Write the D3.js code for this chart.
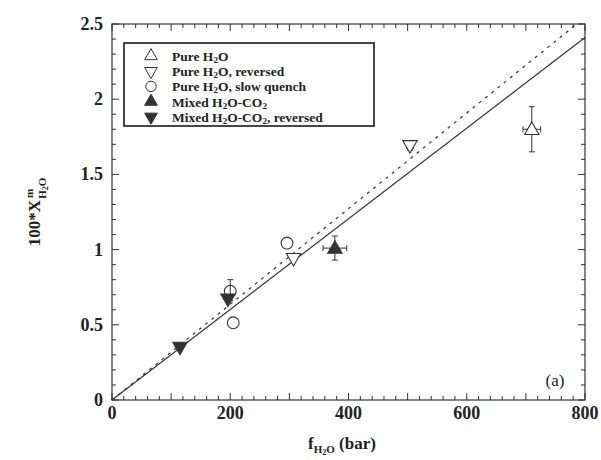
<!doctype html>
<html lang="en">
<head>
<meta charset="utf-8">
<title>Water solubility vs fugacity</title>
<style>
  body { margin: 0; background: #fff; }
  svg text { font-family: "Liberation Serif", "DejaVu Serif", serif; fill: #222; }
</style>
</head>
<body>
<div id="mychart"></div>
<script src="https://d3js.org/d3.v7.min.js"></script>
<script>
var width = 601;
var height = 460;

// data
var pureUp = [{x: 710, y: 1.80, ex: 15, ey: 0.15}];
var pureDown = [{x: 504, y: 1.69, ex: 6, ey: 0.03}, {x: 307, y: 0.94, ex: 0, ey: 0}];
var slowQuench = [{x: 296, y: 1.05, ey: 0}, {x: 200, y: 0.73, ey: 0.07}, {x: 205, y: 0.52, ey: 0}];
var mixedUp = [{x: 377, y: 1.01, ex: 20, ey: 0.08}];
var mixedDown = [{x: 196, y: 0.67}, {x: 115, y: 0.35}];
var solidFit = [[0, 0], [800, 2.41]];
var dashedFit = [[0, 0], [786, 2.5]];
var xTicks = [0, 200, 400, 600, 800];
var yTicks = [0, 0.5, 1, 1.5, 2, 2.5];
var legendLabels = ["Pure H|2|O", "Pure H|2|O,  reversed", "Pure H|2|O,  slow quench", "Mixed H|2|O-CO|2|", "Mixed H|2|O-CO|2|,  reversed"];

var svg = d3.select("#mychart").append("svg")
  .attr("width", width)
  .attr("height", height);

var x = d3.scaleLinear().domain([0, 800]).range([112, 585]);
var y = d3.scaleLinear().domain([0, 2.5]).range([400, 24]);

var ink = "#333";

// frame
svg.append("rect")
  .attr("x", x(0)).attr("y", y(2.5))
  .attr("width", x(800) - x(0)).attr("height", y(0) - y(2.5))
  .attr("fill", "none").attr("stroke", ink).attr("stroke-width", 1.2);

// ticks, pointing inward on all four sides
var xMinor = d3.range(0, 801, 20);
var yMinor = d3.range(0, 26).map(function(d) { return d / 10; });
var tickLen = function(major) { return major ? 7 : 4; };

xMinor.forEach(function(v) {
  var major = v % 100 === 0;
  svg.append("line").attr("x1", x(v)).attr("x2", x(v))
    .attr("y1", y(0)).attr("y2", y(0) - tickLen(major))
    .attr("stroke", ink).attr("stroke-width", 1);
  svg.append("line").attr("x1", x(v)).attr("x2", x(v))
    .attr("y1", y(2.5)).attr("y2", y(2.5) + tickLen(major))
    .attr("stroke", ink).attr("stroke-width", 1);
});
yMinor.forEach(function(v) {
  var major = Math.round(v * 10) % 5 === 0;
  svg.append("line").attr("y1", y(v)).attr("y2", y(v))
    .attr("x1", x(0)).attr("x2", x(0) + tickLen(major))
    .attr("stroke", ink).attr("stroke-width", 1);
  svg.append("line").attr("y1", y(v)).attr("y2", y(v))
    .attr("x1", x(800)).attr("x2", x(800) - tickLen(major))
    .attr("stroke", ink).attr("stroke-width", 1);
});

// tick labels
svg.selectAll(".xl").data(xTicks).enter().append("text")
  .attr("x", function(d) { return x(d); })
  .attr("y", 419)
  .attr("text-anchor", "middle")
  .attr("font-size", 18).attr("font-weight", "bold")
  .text(function(d) { return d; });

svg.selectAll(".yl").data(yTicks).enter().append("text")
  .attr("x", 103)
  .attr("y", function(d) { return y(d) + 6; })
  .attr("text-anchor", "end")
  .attr("font-size", 18).attr("font-weight", "bold")
  .text(function(d) { return d; });

// fit lines
var line = d3.line().x(function(d) { return x(d[0]); }).y(function(d) { return y(d[1]); });
svg.append("path").attr("d", line(solidFit))
  .attr("fill", "none").attr("stroke", ink).attr("stroke-width", 1.2);
svg.append("path").attr("d", line(dashedFit))
  .attr("fill", "none").attr("stroke", ink).attr("stroke-width", 1.2)
  .attr("stroke-dasharray", "3,5");

// error bars
var errorBars = function(data) {
  data.forEach(function(d) {
    if (d.ey) {
      svg.append("line").attr("x1", x(d.x)).attr("x2", x(d.x))
        .attr("y1", y(d.y - d.ey)).attr("y2", y(d.y + d.ey))
        .attr("stroke", ink).attr("stroke-width", 1);
      [d.y - d.ey, d.y + d.ey].forEach(function(v) {
        svg.append("line").attr("x1", x(d.x) - 3).attr("x2", x(d.x) + 3)
          .attr("y1", y(v)).attr("y2", y(v))
          .attr("stroke", ink).attr("stroke-width", 1);
      });
    }
    if (d.ex) {
      svg.append("line").attr("y1", y(d.y)).attr("y2", y(d.y))
        .attr("x1", x(d.x - d.ex)).attr("x2", x(d.x + d.ex))
        .attr("stroke", ink).attr("stroke-width", 1);
      [d.x - d.ex, d.x + d.ex].forEach(function(v) {
        svg.append("line").attr("x1", x(v)).attr("x2", x(v))
          .attr("y1", y(d.y) - 3).attr("y2", y(d.y) + 3)
          .attr("stroke", ink).attr("stroke-width", 1);
      });
    }
  });
};
[pureUp, pureDown, slowQuench, mixedUp].forEach(errorBars);

// markers
var tri = d3.symbol().type(d3.symbolTriangle).size(90);
var circ = d3.symbol().type(d3.symbolCircle).size(110);
var markers = [
  {data: pureUp, path: tri, rot: 0, fill: "#fff"},
  {data: pureDown, path: tri, rot: 180, fill: "#fff"},
  {data: slowQuench, path: circ, rot: 0, fill: "none"},
  {data: mixedUp, path: tri, rot: 0, fill: ink},
  {data: mixedDown, path: tri, rot: 180, fill: ink}
];
markers.forEach(function(m) {
  svg.selectAll(null).data(m.data).enter().append("path")
    .attr("d", m.path())
    .attr("transform", function(d) {
      return "translate(" + x(d.x) + "," + (y(d.y) + (m.rot ? -1 : 1)) + ") rotate(" + m.rot + ")";
    })
    .attr("fill", m.fill).attr("stroke", ink).attr("stroke-width", 1.1);
});

// legend
var lg = svg.append("g");
lg.append("rect").attr("x", 124).attr("y", 43).attr("width", 250).attr("height", 83)
  .attr("fill", "#fff").attr("stroke", ink).attr("stroke-width", 1.8);
var smallTri = d3.symbol().type(d3.symbolTriangle).size(70);
var smallCirc = d3.symbol().type(d3.symbolCircle).size(85);
legendLabels.forEach(function(lab, i) {
  var yy = 57 + i * 15.2;
  var m = markers[i];
  lg.append("path")
    .attr("d", (i === 2 ? smallCirc : smallTri)())
    .attr("transform", "translate(151," + (yy - 1) + ") rotate(" + m.rot + ")")
    .attr("fill", m.fill).attr("stroke", ink).attr("stroke-width", 1);
  var t = lg.append("text").attr("x", 172).attr("y", yy + 4)
    .attr("font-size", 13.5).attr("font-weight", "bold");
  lab.split("|").forEach(function(part, j) {
    var ts = t.append("tspan").text(part);
    if (j % 2 === 1) {
      ts.attr("font-size", 9).attr("dy", 2);
    } else if (j > 0) {
      ts.attr("dy", -2);
    }
  });
});

// panel tag
svg.append("text").attr("x", 555).attr("y", 386)
  .attr("text-anchor", "middle").attr("font-size", 17).text("(a)");

// x axis title
var xt = svg.append("text").attr("x", 342).attr("y", 449)
  .attr("text-anchor", "middle").attr("font-size", 17).attr("font-weight", "bold");
xt.append("tspan").text("f");
xt.append("tspan").attr("font-size", 11).attr("dy", 4).text("H");
xt.append("tspan").attr("font-size", 8).attr("dy", 2).text("2");
xt.append("tspan").attr("font-size", 11).attr("dy", -2).text("O");
xt.append("tspan").attr("dy", -4).text("  (bar)");

// y axis title
var yt = svg.append("g").attr("transform", "translate(40,212) rotate(-90)");
var ytt = yt.append("text").attr("x", 0).attr("y", 0)
  .attr("text-anchor", "middle").attr("font-size", 17).attr("font-weight", "bold");
ytt.append("tspan").text("100*X");
ytt.append("tspan").attr("font-size", 11).attr("dy", -7).attr("dx", 2).text("m");
ytt.append("tspan").attr("font-size", 11).attr("dy", 13).attr("dx", -10).text("H");
ytt.append("tspan").attr("font-size", 8).attr("dy", 2).text("2");
ytt.append("tspan").attr("font-size", 11).attr("dy", -2).text("O");
</script>
</body>
</html>
